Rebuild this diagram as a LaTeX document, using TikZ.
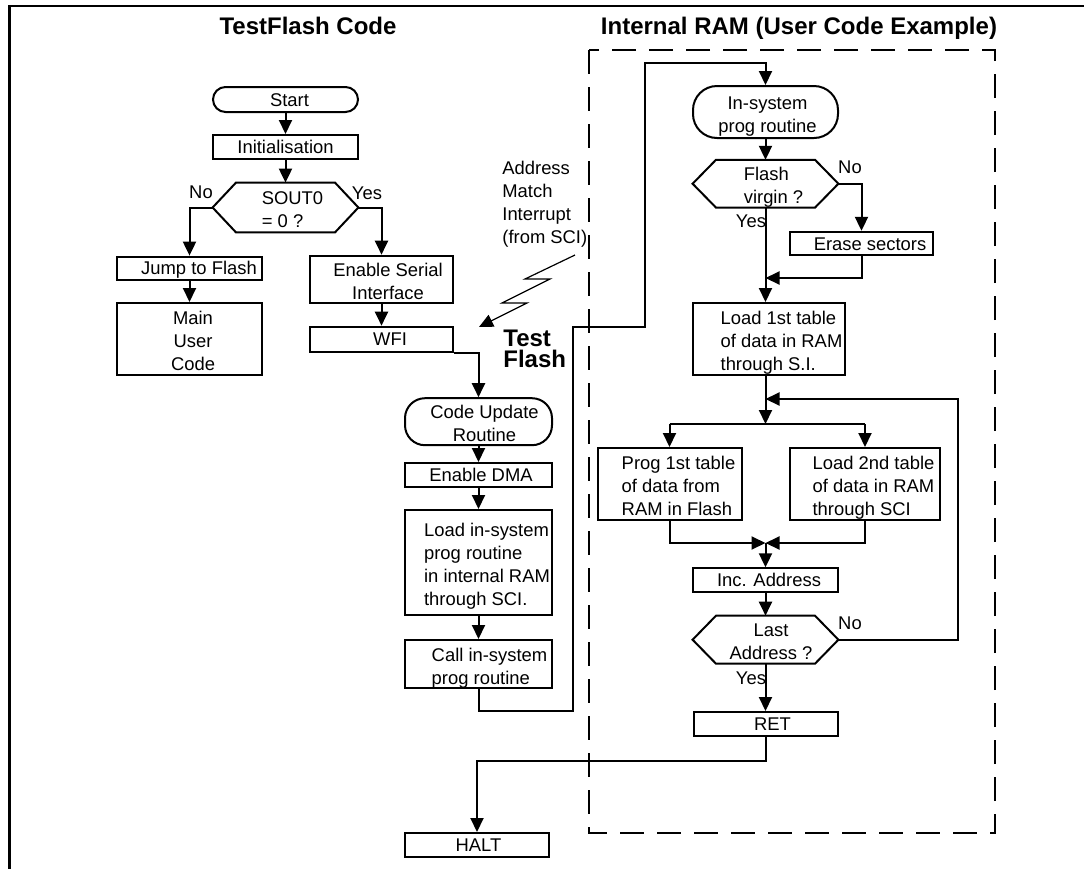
\documentclass[tikz,border=0pt]{standalone}
\usepackage{fontspec}
\setmainfont{Liberation Sans}
\usetikzlibrary{arrows.meta,calc}
\newcommand\nfont{\fontsize{9.2}{11.5}\selectfont}
% shifted text blocks: #1 = right shift (pt) of block start
\newcommand\shl[2]{\hspace*{#1pt}\raisebox{-2pt}[\height][\depth]{\begin{tabular}{@{}l@{}}#2\end{tabular}}}
\newcommand\shm[2]{\hspace*{#1pt}\raisebox{-2pt}[\height][\depth]{\begin{tabular}{@{}c@{}}#2\end{tabular}}}
\newcommand\shc[2]{\hspace*{#1pt}\raisebox{-1pt}[\height][\depth]{\begin{tabular}{@{}c@{}}#2\end{tabular}}}
\newcommand\hexa[1]{\draw[line width=1pt] (#1.west) -- ([xshift=11.7pt]#1.north west) -- ([xshift=-11.7pt]#1.north east) -- (#1.east) -- ([xshift=-11.7pt]#1.south east) -- ([xshift=11.7pt]#1.south west) -- cycle;}
\begin{document}
\begin{tikzpicture}[x=0.5pt,y=-0.5pt,
  box/.style={draw, line width=1pt, inner sep=0pt, font=\nfont},
  term/.style={box, rounded corners=#1},
  dec/.style={inner sep=0pt, font=\nfont},
  arr/.style={line width=1pt, -{Triangle[length=7pt,width=6.5pt]}},
  ln/.style={line width=1pt},
  lbl/.style={font=\nfont, inner sep=0pt},
  ttl/.style={font=\fontsize{12}{10}\selectfont\bfseries, inner sep=0pt}]
\useasboundingbox (0,0) rectangle (1084,869);
% frame
\draw[line width=1.2pt] (9.5,869) -- (9.5,6) -- (1084,6);
% titles
\node[ttl, anchor=base] (t1) at (308,34) {TestFlash Code};
\node[ttl, anchor=base] (t2) at (799,34) {Internal RAM (User Code Example)};
% dashed region
\draw[line width=1.2pt, dash pattern=on 12pt off 6.5pt] (589,50) rectangle (995,833);

% left column
\node[term=6.25pt, minimum width=72.5pt, minimum height=12.5pt] (start) at (285.5,99.5) {\shc{4}{Start}};
\node[box, minimum width=72.5pt, minimum height=12pt] (init) at (285.5,147) {\shc{0}{Initialisation}};
\node[dec, minimum width=72.5pt, minimum height=24.5pt] (sout) at (285.5,207.5) {\shl{7}{SOUT0\\= 0 ?}};
\hexa{sout}
\node[box, minimum width=72.5pt, minimum height=11.7pt] (jump) at (189.5,268.3) {\shc{9.5}{Jump to Flash}};
\node[box, minimum width=72.5pt, minimum height=36pt] (main) at (189.5,339) {\shm{3.5}{Main\\User\\Code}};
\node[box, minimum width=71.5pt, minimum height=23.5pt] (enser) at (381.5,279.2) {\shm{6.5}{Enable Serial\\Interface}};
\node[box, minimum width=71.5pt, minimum height=12.5pt] (wfi) at (381.5,339.2) {\shc{8.5}{WFI}};

% middle column
\node[term=10pt, minimum width=73.5pt, minimum height=23.5pt] (cur) at (478.5,421.7) {\shm{6}{Code Update\\Routine}};
\node[box, minimum width=73.5pt, minimum height=12pt] (dma) at (478.5,475) {\shc{2.5}{Enable DMA}};
\node[box, minimum width=73.5pt, minimum height=52.5pt] (loadis) at (478.5,562.5) {\shl{8.5}{Load in-system\\prog routine\\in internal RAM\\through SCI.}};
\node[box, minimum width=73.5pt, minimum height=24pt] (call) at (478.5,664) {\shl{11}{Call in-system\\prog routine}};
\node[box, minimum width=72pt, minimum height=12pt] (halt) at (477,845) {\shc{1.5}{HALT}};

% right column
\node[term=12pt, minimum width=72.5pt, minimum height=26pt] (ins) at (765.5,112) {\shm{2}{In-system\\prog routine}};
\node[dec, minimum width=72.5pt, minimum height=23.5pt] (fv) at (765.5,183.7) {\shl{8}{Flash\\virgin ?}};
\hexa{fv}
\node[box, minimum width=71.5pt, minimum height=11.7pt] (erase) at (861.5,243.5) {\shc{8.5}{Erase sectors}};
\node[box, minimum width=76pt, minimum height=36pt] (load1) at (769,339) {\shl{12.5}{Load 1st table\\of data in RAM\\through S.I.}};
\node[box, minimum width=72pt, minimum height=36pt] (prog) at (669.5,484) {\shl{9}{Prog 1st table\\of data from\\RAM in Flash}};
\node[box, minimum width=75pt, minimum height=36pt] (load2) at (865,484) {\shl{8.5}{Load 2nd table\\of data in RAM\\through SCI}};
\node[box, minimum width=72.5pt, minimum height=11.7pt] (inc) at (765.5,580) {\shc{3.5}{Inc. Address}};
\node[dec, minimum width=72.5pt, minimum height=23.6pt] (last) at (765.5,639.7) {\shm{5.5}{Last\\Address ?}};
\hexa{last}
\node[box, minimum width=72pt, minimum height=12pt] (ret) at (765.5,724) {\shc{7}{RET}};

% branch labels
\node[lbl] (noA) at (201,192) {No};
\node[lbl] (yesA) at (367,193) {Yes};
\node[lbl] (noB) at (850,167) {No};
\node[lbl] (yesB) at (751,221) {Yes};
\node[lbl] (noC) at (850,623.5) {No};
\node[lbl] (yesC) at (751,678) {Yes};

% interrupt annotation
\node[lbl, anchor=north west, align=left] (irq) at (502,161) {Address\\Match\\Interrupt\\(from SCI)};
\node[inner sep=0pt, anchor=north west, align=left, font=\fontsize{12}{10.5}\selectfont\bfseries] (tf) at (503,329.5) {Test\\Flash};
\coordinate (bS) at (575,255);
\coordinate (bE) at (479,327);
\draw[line width=0.6pt, -{Triangle[length=7pt,width=6.5pt]}] (bS) -- (525,279) -- (550,279) -- (502,303) -- (527,303) -- (bE);

% junction coordinates
\coordinate (jA) at (765.5,278);
\coordinate (jB) at (765.5,399);
\coordinate (sp) at (765.5,424);
\coordinate (mg) at (765.5,543);

% connectors
\draw[arr] (start) -- (init);
\draw[arr] (init) -- (sout);
\draw[arr] (sout.west) -| (jump.north);
\draw[arr] (sout.east) -| (enser.north);
\draw[arr] (jump) -- (main);
\draw[arr] (enser) -- (wfi);
\draw[arr] (wfi.south east) -| (cur.north);
\draw[arr] (cur) -- (dma);
\draw[arr] (dma) -- (loadis);
\draw[arr] (loadis) -- (call);
\draw[arr] (call.south) -- ++(0,22) -| (573,327) -| (645,63) -| (ins.north);
\draw[arr] (ins) -- (fv);
\draw[arr] (fv.east) -| (erase.north);
\draw[arr] (fv.south) -- (fv.south |- load1.north);
\draw[arr] (erase.south) |- (jA);
\draw[arr] (jB |- load1.south) -- (sp);
\draw[ln] (prog.north |- sp) -- (load2.north |- sp);
\draw[arr] (prog.north |- sp) -- (prog.north);
\draw[arr] (load2.north |- sp) -- (load2.north);
\draw[arr] (prog.south) |- (mg);
\draw[arr] (load2.south) |- (mg);
\draw[arr] (mg) -- (mg |- inc.north);
\draw[arr] (inc) -- (last);
\draw[arr] (last.east) -| (958,399) -- (jB);
\draw[arr] (last.south) -- (last.south |- ret.north);
\draw[arr] (ret.south) -- ++(0,24) -| (halt.north);
\end{tikzpicture}
\end{document}
